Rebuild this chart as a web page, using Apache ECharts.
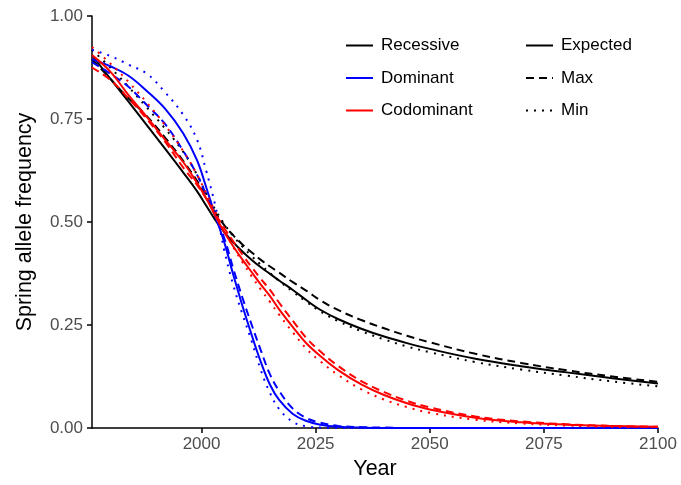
<!DOCTYPE html>
<html>
<head>
<meta charset="utf-8">
<script src="https://cdn.jsdelivr.net/npm/echarts@6/dist/echarts.min.js"></script>
<style>
html,body{margin:0;padding:0;background:#fff;}
#chart{width:681px;height:485px;}
</style>
</head>
<body>
<div id="chart"></div>
<script>
const years = [1976, 1980, 1984, 1988, 1992, 1996, 1999, 2001, 2003, 2005, 2007, 2009, 2011, 2013, 2015, 2017, 2020, 2023, 2026, 2030, 2035, 2040, 2045, 2050, 2060, 2070, 2080, 2090, 2100];

const recessiveExpected = [0.905, 0.848, 0.792, 0.735, 0.678, 0.620, 0.575, 0.540, 0.505, 0.475, 0.450, 0.428, 0.408, 0.390, 0.374, 0.358, 0.335, 0.310, 0.287, 0.264, 0.241, 0.222, 0.206, 0.192, 0.168, 0.150, 0.135, 0.121, 0.108];
const recessiveMax      = [0.895, 0.848, 0.800, 0.757, 0.705, 0.648, 0.600, 0.563, 0.523, 0.492, 0.467, 0.445, 0.426, 0.408, 0.392, 0.377, 0.354, 0.333, 0.310, 0.286, 0.262, 0.242, 0.224, 0.208, 0.180, 0.158, 0.140, 0.125, 0.112];
const recessiveMin      = [0.918, 0.875, 0.828, 0.778, 0.727, 0.670, 0.615, 0.570, 0.530, 0.495, 0.465, 0.440, 0.417, 0.396, 0.376, 0.357, 0.331, 0.306, 0.283, 0.259, 0.235, 0.215, 0.198, 0.184, 0.160, 0.142, 0.127, 0.113, 0.101];

const dominantExpected  = [0.895, 0.878, 0.855, 0.818, 0.775, 0.715, 0.650, 0.585, 0.515, 0.450, 0.370, 0.295, 0.225, 0.160, 0.105, 0.068, 0.034, 0.017, 0.008, 0.003, 0.001, 0, 0, 0, 0, 0, 0, 0, 0];
const dominantMax       = [0.888, 0.860, 0.828, 0.784, 0.738, 0.672, 0.615, 0.567, 0.515, 0.460, 0.385, 0.315, 0.250, 0.188, 0.130, 0.090, 0.047, 0.024, 0.013, 0.005, 0.002, 0.001, 0, 0, 0, 0, 0, 0, 0];
const dominantMin       = [0.918, 0.903, 0.882, 0.860, 0.815, 0.760, 0.700, 0.625, 0.540, 0.430, 0.345, 0.275, 0.210, 0.140, 0.085, 0.046, 0.015, 0.004, 0.001, 0, 0, 0, 0, 0, 0, 0, 0, 0, 0];

const codominantExpected = [0.905, 0.865, 0.808, 0.755, 0.700, 0.645, 0.595, 0.558, 0.515, 0.475, 0.440, 0.408, 0.378, 0.348, 0.320, 0.288, 0.245, 0.205, 0.175, 0.140, 0.106, 0.080, 0.060, 0.045, 0.025, 0.014, 0.008, 0.005, 0.003];
const codominantMax      = [0.875, 0.845, 0.800, 0.750, 0.695, 0.632, 0.590, 0.557, 0.520, 0.485, 0.452, 0.420, 0.390, 0.362, 0.335, 0.304, 0.260, 0.218, 0.186, 0.150, 0.114, 0.087, 0.066, 0.050, 0.028, 0.016, 0.009, 0.005, 0.003];
const codominantMin      = [0.925, 0.885, 0.840, 0.790, 0.735, 0.672, 0.615, 0.570, 0.525, 0.478, 0.438, 0.402, 0.368, 0.336, 0.306, 0.275, 0.232, 0.192, 0.162, 0.128, 0.094, 0.069, 0.051, 0.037, 0.020, 0.011, 0.006, 0.003, 0.002];

const xTicks = [2000, 2025, 2050, 2075, 2100];
const groupNames = ['Recessive', 'Dominant', 'Codominant'];
const typeNames = ['Expected', 'Max', 'Min'];

const colors = {Recessive: '#000000', Dominant: '#0000ff', Codominant: '#ff0000'};
const dashStyles = {Expected: 'solid', Max: [8, 5], Min: [2, 6]};

function pts(vals) { return years.map((y, i) => [y, vals[i]]); }

const groups = [
  {name: 'Recessive', sets: [recessiveExpected, recessiveMax, recessiveMin]},
  {name: 'Dominant', sets: [dominantExpected, dominantMax, dominantMin]},
  {name: 'Codominant', sets: [codominantExpected, codominantMax, codominantMin]}
];

const series = [];
groups.forEach(g => {
  g.sets.forEach((vals, k) => {
    series.push({
      name: k === 0 ? g.name : g.name + ' ' + typeNames[k],
      type: 'line',
      data: pts(vals),
      showSymbol: false,
      symbol: 'none',
      smooth: 0.4,
      lineStyle: {color: colors[g.name], width: 2, type: dashStyles[typeNames[k]]},
      itemStyle: {color: colors[g.name]},
      emphasis: {disabled: true},
      z: 2
    });
  });
});
typeNames.forEach(t => {
  series.push({
    name: t, type: 'line', data: [], symbol: 'none',
    lineStyle: {color: '#000', width: 2, type: dashStyles[t]},
    itemStyle: {color: '#000'}
  });
});

const FONT = 'Liberation Sans, Arial, sans-serif';
const chart = echarts.init(document.getElementById('chart'), null, {renderer: 'canvas'});
const legendCommon = {
  orient: 'vertical',
  top: 32,
  itemWidth: 27,
  itemHeight: 14,
  itemGap: 15.5,
  selectedMode: false,
  itemStyle: {color: 'rgba(0,0,0,0)', borderColor: 'rgba(0,0,0,0)', borderWidth: 0, opacity: 0},
  textStyle: {fontFamily: FONT, fontSize: 17, color: '#000', padding: [0, 0, 0, 3]}
};
chart.setOption({
  animation: false,
  backgroundColor: '#fff',
  grid: {left: 92, right: 23, top: 16, bottom: 57, containLabel: false},
  legend: [
    Object.assign({}, legendCommon, {left: 340, data: groupNames}),
    Object.assign({}, legendCommon, {left: 520, data: typeNames})
  ],
  xAxis: {
    type: 'value', min: 1976, max: 2100,
    name: 'Year', nameLocation: 'middle', nameGap: 29,
    nameTextStyle: {fontFamily: FONT, fontSize: 21.5, color: '#000'},
    axisLine: {lineStyle: {color: '#000', width: 1.5}},
    axisTick: {show: true, length: 5, lineStyle: {color: '#000', width: 1.5}, customValues: xTicks},
    axisLabel: {fontFamily: FONT, fontSize: 17, color: '#4d4d4d', margin: 8, customValues: xTicks,
      formatter: v => String(v)},
    splitLine: {show: false}
  },
  yAxis: {
    type: 'value', min: 0, max: 1, interval: 0.25,
    name: 'Spring allele frequency', nameLocation: 'middle', nameGap: 56,
    nameTextStyle: {fontFamily: FONT, fontSize: 21.5, color: '#000'},
    axisLine: {show: true, lineStyle: {color: '#000', width: 1.5}},
    axisTick: {show: true, length: 5, lineStyle: {color: '#000', width: 1.5}},
    axisLabel: {fontFamily: FONT, fontSize: 17, color: '#4d4d4d', margin: 9,
      formatter: v => v.toFixed(2)},
    splitLine: {show: false}
  },
  series: series
});
</script>
</body>
</html>
